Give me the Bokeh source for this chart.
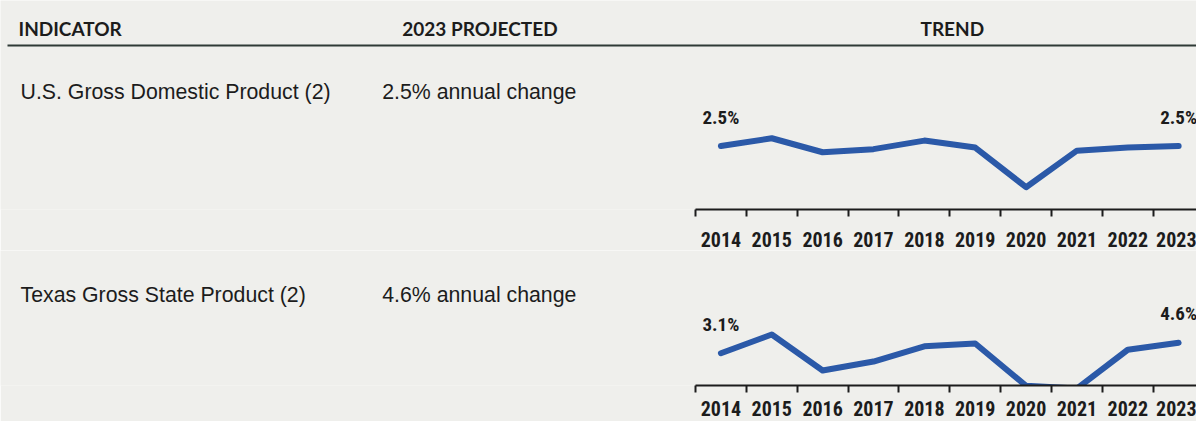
from bokeh.plotting import figure
from bokeh.layouts import column
from bokeh.models import Range1d, FixedTicker, ColumnDataSource
from bokeh.core.properties import value
from bokeh.embed import file_html
from bokeh.resources import INLINE

# ---------------- data ----------------
headers = ["INDICATOR", "2023 PROJECTED", "TREND"]
indicators = ["U.S. Gross Domestic Product (2)", "Texas Gross State Product (2)"]
projected = ["2.5% annual change", "4.6% annual change"]
years = [2014, 2015, 2016, 2017, 2018, 2019, 2020, 2021, 2022, 2023]
us_gdp = [2.5, 3.5, 1.7, 2.1, 3.2, 2.3, -2.8, 1.9, 2.3, 2.5]
tx_gsp = [3.1, 5.8, 0.6, 1.9, 4.1, 4.5, -1.6, -2.0, 3.6, 4.6]

# ---------------- style ----------------
BG = "#efefec"
INK = "#1c1c1c"
BLUE = "#2b59a8"
HEAD_FONT = value("Lato")
BODY_FONT = value("Liberation Sans")
NARROW_STR = ("Roboto Condensed, Noto Sans Condensed, Liberation Sans Narrow, "
              "DejaVu Sans Condensed, Liberation Sans, sans-serif")
NARROW = value(NARROW_STR)

W = 1196
X_START, X_END = 1999.835, 2023.351   # year scale: ticks at 2013.5 ... 2022.5


def panel(h, bottom, ylo, yhi, vals, standoff):
    frame_h = h - bottom
    p = figure(width=W, height=h, x_range=Range1d(X_START, X_END),
               y_range=Range1d(ylo, yhi), output_backend="svg",
               toolbar_location=None, y_axis_location=None,
               min_border_left=0, min_border_right=0, min_border_top=0,
               min_border_bottom=bottom,
               background_fill_color=BG, border_fill_color=BG,
               outline_line_color=None)
    p.grid.visible = False
    p.extra_x_ranges = {"px": Range1d(0, W)}
    p.extra_y_ranges = {"px": Range1d(frame_h, 0)}
    src = ColumnDataSource(dict(x=years, y=vals))
    p.line("x", "y", source=src, line_color=BLUE, line_width=6,
           line_join="round", line_cap="round")
    ends = [0, len(years) - 1]
    p.text(x=[years[i] for i in ends], y=[vals[i] for i in ends],
           text=[f"{vals[i]:.1f}%" for i in ends], y_offset=-29,
           text_font=NARROW, text_font_size="19px", text_font_style="bold",
           text_color=INK, text_align="center", text_baseline="middle")
    ax = p.xaxis[0]
    ax.bounds = (2013.5, X_END)
    ax.ticker = FixedTicker(ticks=years, minor_ticks=[y - 0.5 for y in years])
    ax.major_label_overrides = {y: str(y) for y in years}
    ax.major_tick_out = 0
    ax.major_tick_in = 0
    ax.minor_tick_out = 7
    ax.minor_tick_in = 0
    ax.minor_tick_line_width = 2
    ax.minor_tick_line_color = INK
    ax.axis_line_width = 2
    ax.axis_line_color = INK
    ax.major_label_standoff = standoff
    ax.major_label_text_font = NARROW_STR
    ax.major_label_text_font_style = "bold"
    ax.major_label_text_font_size = "20px"
    ax.major_label_text_color = INK
    return p


# row 1 (with header): 0..250, axis at y=209
p1 = panel(250, 41, -5.67, 21.23, us_gdp, 15)
p1.text(x=[18, 401.7, 920], y=[28, 28, 28], text=headers,
        x_range_name="px", y_range_name="px",
        text_font=HEAD_FONT, text_font_style="bold", text_font_size="19px",
        text_color=INK, text_baseline="middle", text_align="left")
p1.segment(x0=[7], y0=[45], x1=[W], y1=[45], x_range_name="px", y_range_name="px",
           line_color="#2f3a36", line_width=2)
p1.text(x=[20, 381.7], y=[91.5, 91.5], text=[indicators[0], projected[0]],
        x_range_name="px", y_range_name="px",
        text_font=BODY_FONT, text_font_size="21.3px", text_color=INK,
        text_baseline="middle", text_align="left")

# row 2: 250..421, axis at y=385
p2 = panel(171, 36, -1.56, 17.92, tx_gsp, 8)
p2.extra_y_ranges = {"px": Range1d(385, 250)}
p2.text(x=[20, 381.7], y=[294, 294], text=[indicators[1], projected[1]],
        x_range_name="px", y_range_name="px",
        text_font=BODY_FONT, text_font_size="21.3px", text_color=INK,
        text_baseline="middle", text_align="left")

p = column(p1, p2)

open("out.html", "w").write(file_html(p, INLINE))
